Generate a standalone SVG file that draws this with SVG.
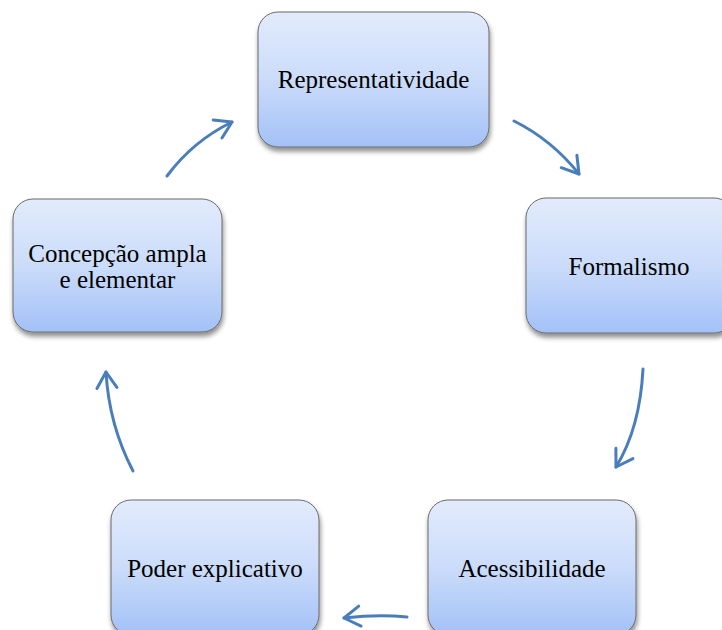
<svg xmlns="http://www.w3.org/2000/svg" width="722" height="630" viewBox="0 0 722 630">
  <defs>
    <linearGradient id="fill" x1="0" y1="0" x2="0" y2="1">
      <stop offset="0" stop-color="#e2ebfc"/>
      <stop offset="0.5" stop-color="#cbdcfa"/>
      <stop offset="1" stop-color="#a3c1f7"/>
    </linearGradient>
    <filter id="shadow" x="-10%" y="-10%" width="125%" height="130%">
      <feGaussianBlur in="SourceAlpha" stdDeviation="2.5"/>
      <feOffset dx="1" dy="4" result="b"/>
      <feComponentTransfer><feFuncA type="linear" slope="0.45"/></feComponentTransfer>
      <feMerge><feMergeNode/><feMergeNode in="SourceGraphic"/></feMerge>
    </filter>
    <marker id="arrow" markerUnits="userSpaceOnUse" markerWidth="30" markerHeight="30" viewBox="-20 -15 25 30" refX="0" refY="0" orient="auto">
      <path d="M -16 -10 L 0 0 L -16 10" fill="none" stroke="#4a7ebb" stroke-width="3" stroke-linecap="round" stroke-linejoin="round"/>
    </marker>
  </defs>
  <style>
    .box { fill: url(#fill); stroke: #6b6b6b; stroke-width: 1; filter: url(#shadow); }
    .label { font-family: "Liberation Serif", "Times New Roman", serif; font-size: 25px; fill: #000; text-anchor: middle; }
    .conn { fill: none; stroke: #4a7ebb; stroke-width: 3; stroke-linecap: round; marker-end: url(#arrow); }
  </style>
  <rect width="722" height="630" fill="#ffffff"/>

  <g id="connectors">
    <path class="conn" d="M 514 121 Q 552 140 579 174"/>
    <path class="conn" d="M 643 369 Q 640 428 616 467"/>
    <path class="conn" d="M 407 617 Q 378 614 344 618"/>
    <path class="conn" d="M 133 471 Q 109 425 106 372"/>
    <path class="conn" d="M 167 176 Q 193 141 232 122"/>
  </g>

  <g id="node-representatividade">
    <rect class="box" x="258" y="12" width="231" height="135" rx="20" ry="20"/>
    <text class="label" x="373.5" y="88">Representatividade</text>
  </g>
  <g id="node-formalismo">
    <rect class="box" x="526" y="198" width="208" height="135" rx="20" ry="20"/>
    <text class="label" x="629" y="275">Formalismo</text>
  </g>
  <g id="node-acessibilidade">
    <rect class="box" x="428" y="500" width="208" height="135" rx="20" ry="20"/>
    <text class="label" x="532" y="577">Acessibilidade</text>
  </g>
  <g id="node-poder">
    <rect class="box" x="111" y="500" width="208" height="135" rx="20" ry="20"/>
    <text class="label" x="215" y="577">Poder explicativo</text>
  </g>
  <g id="node-concepcao">
    <rect class="box" x="13" y="199" width="209" height="133" rx="20" ry="20"/>
    <text class="label" x="117.5" y="262">Concepção ampla</text>
    <text class="label" x="117.5" y="288">e elementar</text>
  </g>
</svg>
